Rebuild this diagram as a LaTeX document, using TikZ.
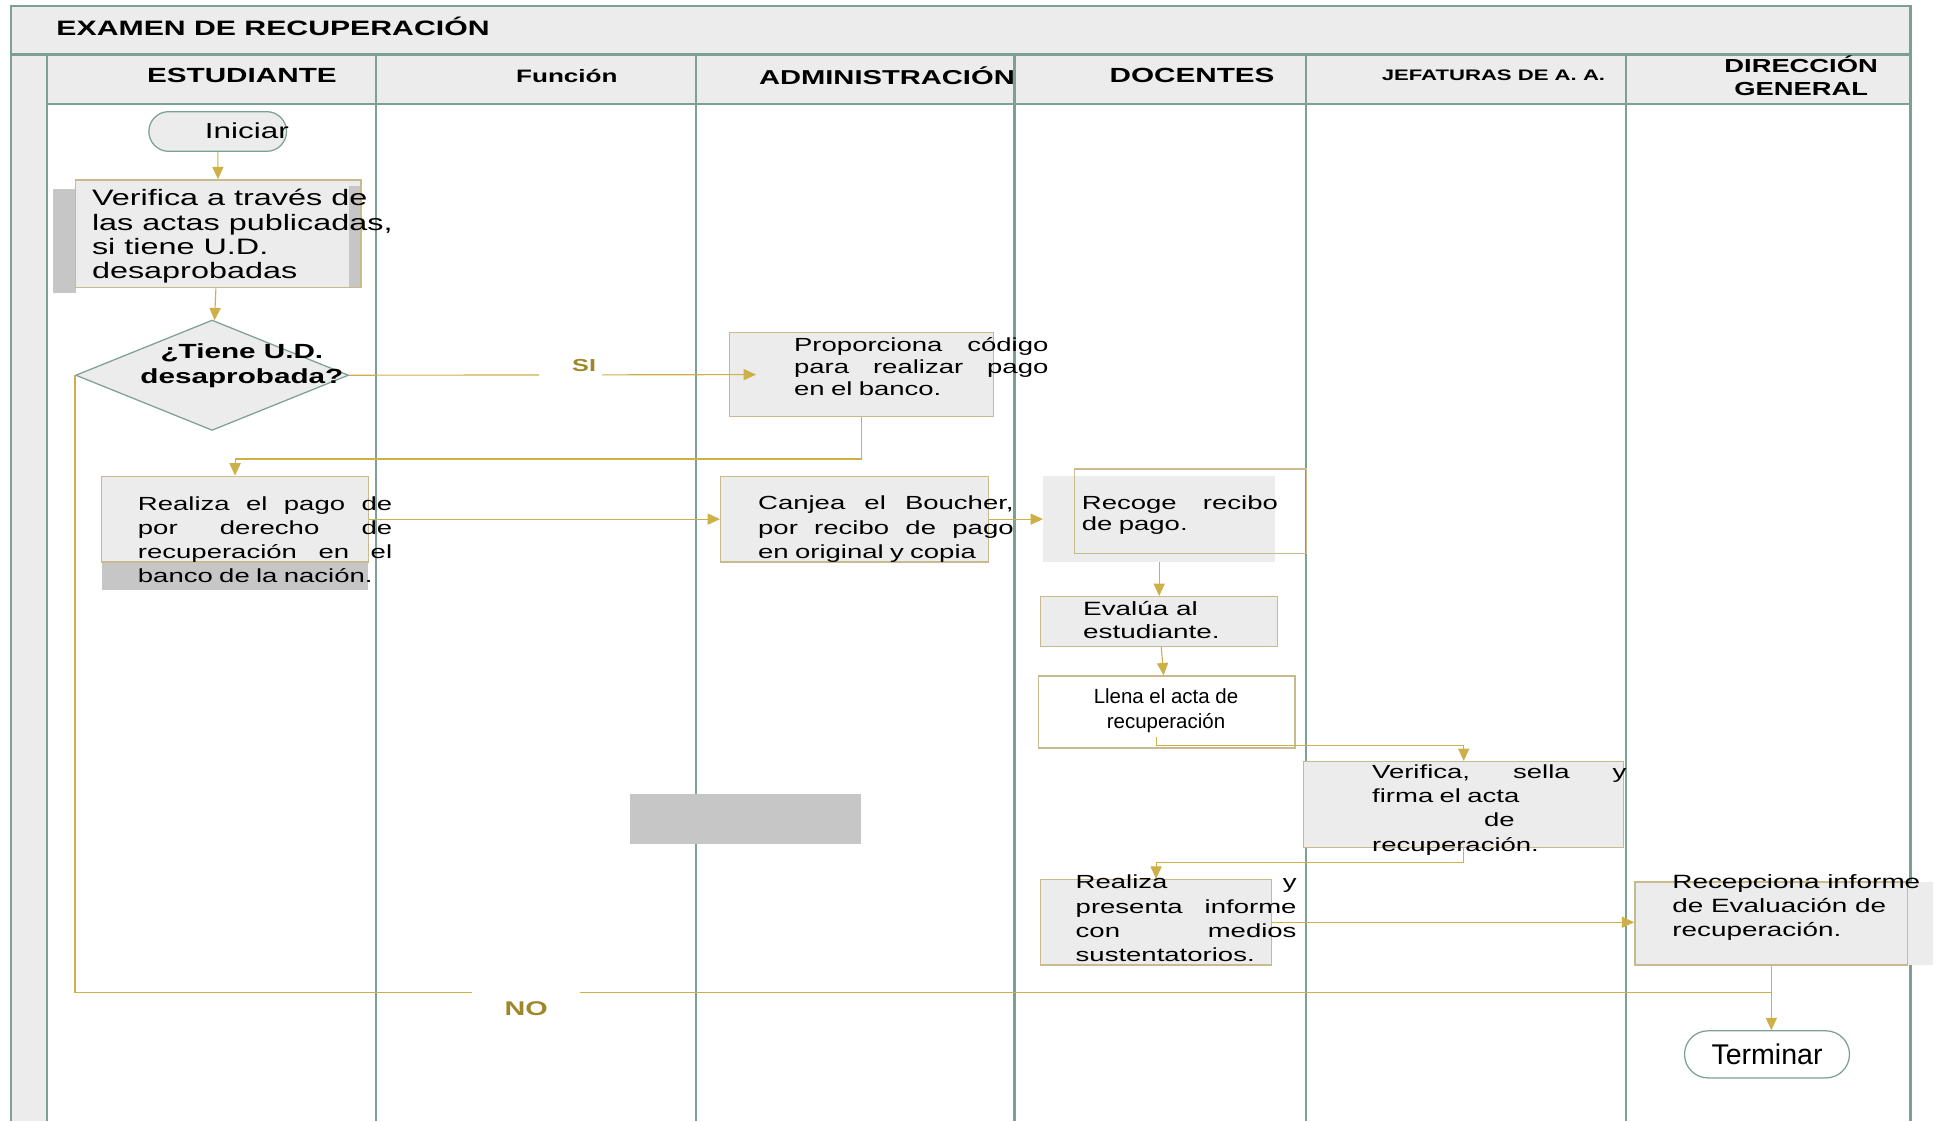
\documentclass[tikz,border=0pt]{standalone}
\usepackage{fontspec}
\setmainfont{Liberation Sans}[FakeStretch=1.45]
\newfontfamily\narrowf{Liberation Sans}
\usetikzlibrary{shapes.geometric,shapes.misc,arrows.meta}
\definecolor{lane}{RGB}{125,160,148}
\definecolor{gold}{RGB}{206,176,72}
\definecolor{darkgold}{RGB}{160,134,42}
\definecolor{tan}{RGB}{200,186,140}
\definecolor{boxgray}{RGB}{236,236,236}
\definecolor{shadowgray}{RGB}{198,198,198}
\newcommand{\fsz}[2]{\fontsize{#1}{#2}\selectfont}
\begin{document}
\begin{tikzpicture}[x=1pt,y=-1pt,>={Triangle[length=10pt,width=9pt]},
        flow/.style={draw=gold,line width=0.9pt},
        box/.style={draw=tan,fill=boxgray,line width=1.1pt,inner sep=0pt},
        txt/.style={inner sep=0pt,align=left,anchor=west,font=\fsz{15.3}{19.5},execute at begin node=\strut,execute at end node=\strut},
        hd/.style={font=\bfseries\fsz{16.5}{19}},
        term/.style={rounded rectangle,draw=lane,line width=1pt,inner sep=0pt},
        gap/.style={fill=white,inner sep=0pt,minimum height=5}]
        \useasboundingbox(0,0)rectangle(1568,904);
        \fill[white](0,0)rectangle(1568,904);
        \fill[boxgray](9,5)rectangle(1540,84);
        \fill[boxgray](9,44)rectangle(38,904);
        \draw[lane,line width=2pt](9,904)--(9,5)--(1540,5)--(1540,904);
        \draw[lane,line width=2pt](9,44)--(1540,44);
        \draw[lane,line width=2pt](38,84)--(1540,84);
        \foreach \x in {38,303,561,818,1053,1311}\draw[lane,line width=2pt](\x,44)--(\x,904);
        \node[font=\bfseries\fsz{16.8}{19},anchor=west](t)at(42,21){EXAMEN DE RECUPERACIÓN};
        \node[hd](h1)at(195,61){ESTUDIANTE};
        \node[font=\bfseries\fsz{14.5}{17}](h2)at(457,61){Función};
        \node[font=\bfseries\fsz{16.2}{19}](h3)at(715,61){ADMINISTRACIÓN};
        \node[hd](h4)at(961,61){DOCENTES};
        \node[font=\bfseries\fsz{12.3}{15}](h5)at(1204,61){JEFATURAS DE A. A.};
        \node[font=\bfseries\fsz{15.2}{19},align=center](h6)at(1452,61){DIRECCIÓN\\GENERAL};
        \fill[shadowgray](508,640)rectangle(694,680);
        \node[term,fill=boxgray,minimum width=111,minimum height=32](1)at(175.5,106){};
        \node[font=\fsz{17.5}{20}](1t)at(199,105){Iniciar};
        \fill[shadowgray](43,152)rectangle(61,236);
        \node[box,minimum width=230,minimum height=87](2)at(176,188.5){};
        \fill[shadowgray](281,150)rectangle(290,231);
        \node[txt,font=\fsz{18}{19.5}](2t)at(74,191.5){Verifica a través de\\las actas publicadas,\\si tiene U.D.\\desaprobadas};
        \node[diamond,draw=lane,fill=boxgray,line width=1pt,minimum width=220,minimum height=89,inner sep=0pt](3)at(171,302.5){};
        \node[font=\bfseries\fsz{16.5}{20},align=center](3t)at(195,295){¿Tiene U.D.\\desaprobada?};
        \node[box,minimum width=213,minimum height=68](4)at(694.5,302){};
        \node[txt,text width=205,font=\fsz{15.3}{17.5}](4t)at(640,297.5){Proporciona\hfill código\\para\hfill realizar\hfill pago\\en el banco.};
        \fill[shadowgray](82,440)rectangle(297,476);
        \node[box,minimum width=215,minimum height=69](5)at(189.5,418.5){};
        \node[txt,text width=205](5t)at(111,436.5){Realiza\hfill el\hfill pago\hfill de\\por\hfill derecho\hfill de\\recuperación\hfill en\hfill el\\banco de la nación.};
        \node[box,minimum width=216,minimum height=69](6)at(689,418.5){};
        \node[txt,text width=206](6t)at(611,426.7){Canjea\hfill el\hfill Boucher,\\por\hfill recibo\hfill de\hfill pago\\en original y copia};
        \node[fill=boxgray,minimum width=187,minimum height=69,inner sep=0pt](7)at(934.5,418.5){};
        \node[draw=tan,line width=1.1pt,minimum width=187,minimum height=68,inner sep=0pt](7b)at(959.5,412){};
        \node[txt,text width=158,font=\fsz{15.3}{17}](7t)at(872,415.5){Recoge\hfill recibo\\de pago.};
        \node[box,minimum width=191,minimum height=40](8)at(934.5,501){};
        \node[txt,font=\fsz{15.5}{19}](8t)at(873,502.5){Evalúa al\\estudiante.};
        \node[box,fill=white,minimum width=207,minimum height=58](9)at(940.5,574){};
        \node[font=\narrowf\fsz{16.5}{20},align=center](9t)at(940,573){Llena el acta de\\recuperación};
        \node[box,minimum width=258,minimum height=69](10)at(1180,648.5){};
        \node[txt,text width=205](10t)at(1106,653){Verifica,\hfill sella\hfill y\\firma el acta\\\hfill de\hfill\hbox{}\\recuperación.};
        \node[box,minimum width=186,minimum height=69](11)at(932,743.5){};
        \node[txt,text width=178](11t)at(867,742){Realiza\hfill y\\presenta\hfill informe\\con\hfill medios\\sustentatorios.};
        \fill[boxgray](1538,711)rectangle(1558,778);
        \node[box,minimum width=220,minimum height=67](12)at(1428,744.5){};
        \node[txt,font=\fsz{15.5}{19.5}](12t)at(1348,732.7){Recepciona informe\\de Evaluación de\\recuperación.};
        \node[term,fill=white,minimum width=133,minimum height=38,font=\narrowf\fsz{23}{25}](13)at(1424.5,850){Terminar};
        \coordinate(k1)at(189.5,370);
        \coordinate(k2)at(932,601);
        \coordinate(k3)at(1180,695);
        \coordinate(k4)at(1428,800);
        \draw[flow,->](1)--(2);
        \draw[flow,->](2)--(3);
        \draw[flow,->](3.east)--node[gap,pos=0.544,minimum width=50,label={[font=\bfseries\fsz{14}{16},text=darkgold,label distance=-4pt,xshift=11pt]above:SI}](si){}([xshift=22pt]4.west);
        \draw[flow,->](4.south)|-(k1)--(5);
        \draw[flow,->](5)--(6);
        \draw[flow,->](6)--(7);
        \draw[flow,->](7)--(8);
        \draw[flow,->](8)--(9);
        \draw[flow,->](9t.south-|k2)--(k2)-|(10);
        \draw[flow,->](10)--(k3)-|(11);
        \draw[flow,->](11)--(11-|12.west);
        \draw[flow,->](12)--(12|-13.north);
        \draw[flow](3.west)|-node[gap,pos=0.633,minimum width=87,label={[font=\bfseries\fsz{16}{18},text=darkgold,label distance=1pt]below:NO}](no){}(k4);
    \end{tikzpicture}
\end{document}
